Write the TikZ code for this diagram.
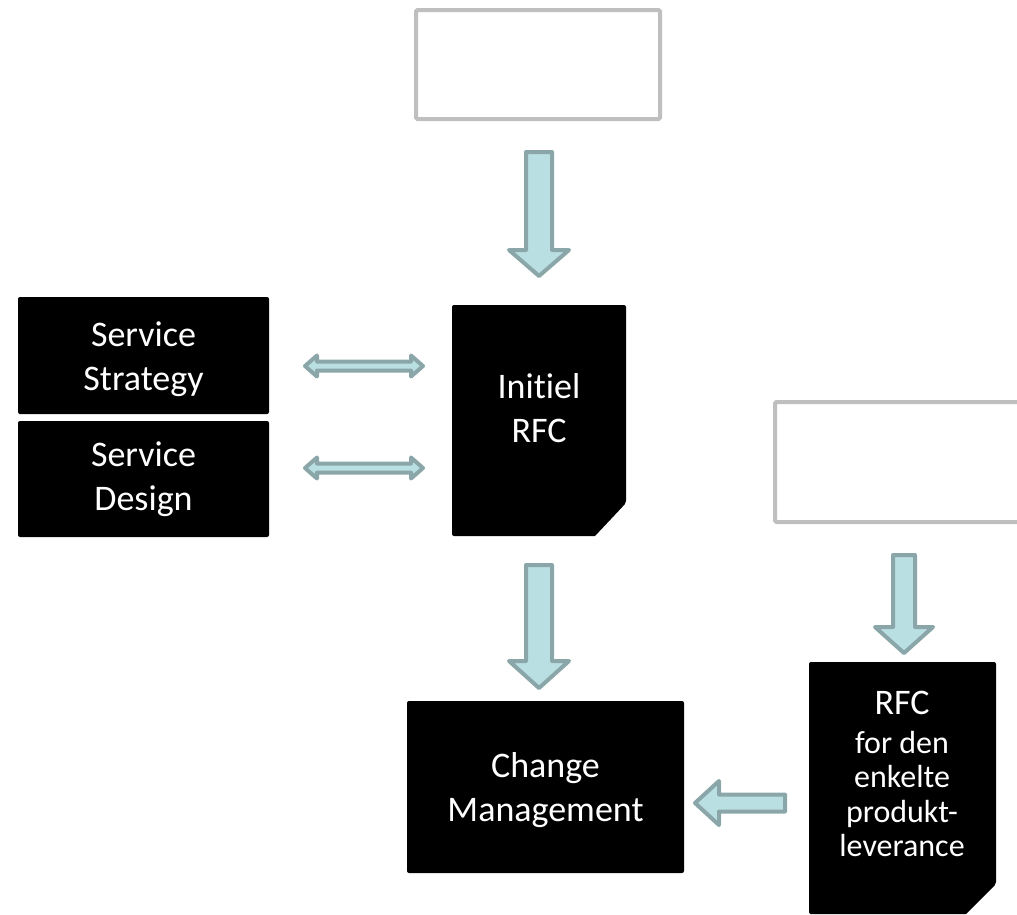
\documentclass[tikz,border=0pt]{standalone}
\usepackage{fontspec}
\setmainfont{Carlito}[Ligatures={NoCommon,NoContextual}]
\definecolor{arrowfill}{HTML}{BADFE2}
\definecolor{arrowline}{HTML}{8AA6A8}
\definecolor{boxgray}{HTML}{BFBFBF}
\tikzset{
  blockarrow/.style={fill=arrowfill, draw=arrowline, line width=4pt, line join=round},
  emptybox/.style={draw=boxgray, line width=4pt, fill=white, rounded corners=1.5pt},
  blackbox/.style={fill=black, rounded corners=2pt},
  boxtext/.style={text=white, align=center, font=\fontsize{36}{44}\selectfont, inner sep=0pt},
  smalltext/.style={text=white, align=center, font=\fontsize{32}{34.5}\selectfont, inner sep=0pt}
}
% down block arrow: cx, ytop, yhead, ytip, shaft half, head half
\newcommand\dnblock[6]{%
  \draw[blockarrow] ({#1-#5},#2) -- ({#1+#5},#2) -- ({#1+#5},#3) -- ({#1+#6},#3)
    -- (#1,#4) -- ({#1-#6},#3) -- ({#1-#5},#3) -- cycle;}
% double horizontal arrow: xleft, xright, cy, head length, shaft half, head half
\newcommand\dblblock[6]{%
  \draw[blockarrow] (#1,#3) -- ({#1+#4},{#3-#6}) -- ({#1+#4},{#3-#5}) -- ({#2-#4},{#3-#5})
    -- ({#2-#4},{#3-#6}) -- (#2,#3) -- ({#2-#4},{#3+#6}) -- ({#2-#4},{#3+#5})
    -- ({#1+#4},{#3+#5}) -- ({#1+#4},{#3+#6}) -- cycle;}
\begin{document}
\begin{tikzpicture}[x=1pt,y=-1pt]
\useasboundingbox (0,0) rectangle (1017,914);
\clip (0,0) rectangle (1017,914);

% empty gray boxes
\node[emptybox, minimum width=244pt, minimum height=109pt] (topbox) at (538,64.5) {};
\node[emptybox, minimum width=270pt, minimum height=120pt, anchor=north west] (rightbox) at (773,400) {};

% left black boxes
\node[blackbox, minimum width=251pt, minimum height=117pt] (strategy) at (143.5,355.5) {};
\node[boxtext] (strategytext) at (143.5,359) {Service\\Strategy};
\node[blackbox, minimum width=251pt, minimum height=116pt] (design) at (143.5,479) {};
\node[boxtext] (designtext) at (143.5,479) {Service\\Design};

% Initiel RFC document
\fill[black, rounded corners=2pt] (452,305) -- (626,305) -- (626,503) [sharp corners] -- (595,536) [rounded corners=2pt] -- (452,536) -- cycle;
\node[boxtext] (initiel) at (539,408) {Initiel\\RFC};

% Change Management
\node[blackbox, minimum width=277pt, minimum height=172pt] (change) at (545.5,787) {};
\node[boxtext] (changetext) at (545.5,790) {Change\\Management};

% RFC document for product deliveries
\fill[black, rounded corners=2pt] (809,662) -- (996,662) -- (996,884) [sharp corners] -- (966,914) [rounded corners=2pt] -- (809,914) -- cycle;
\node[boxtext, anchor=base] (rfc2) at (902,714) {RFC};
\node[smalltext] (rfc2sub) at (902,794) {for den\\enkelte\\produkt-\\leverance};

% arrows
\dnblock{539}{152}{250}{276}{13}{30}
\dnblock{539}{565}{661}{688}{13}{30}
\dnblock{904}{555}{627}{653}{11}{29}
\dblblock{305}{423}{366}{12}{4.5}{10.5}
\dblblock{305}{423}{468}{12}{4.5}{10.5}
\draw[blockarrow] (695,803) -- (719,781) -- (719,794.5) -- (785,794.5) -- (785,811.5)
   -- (719,811.5) -- (719,825) -- cycle;
\end{tikzpicture}
\end{document}
